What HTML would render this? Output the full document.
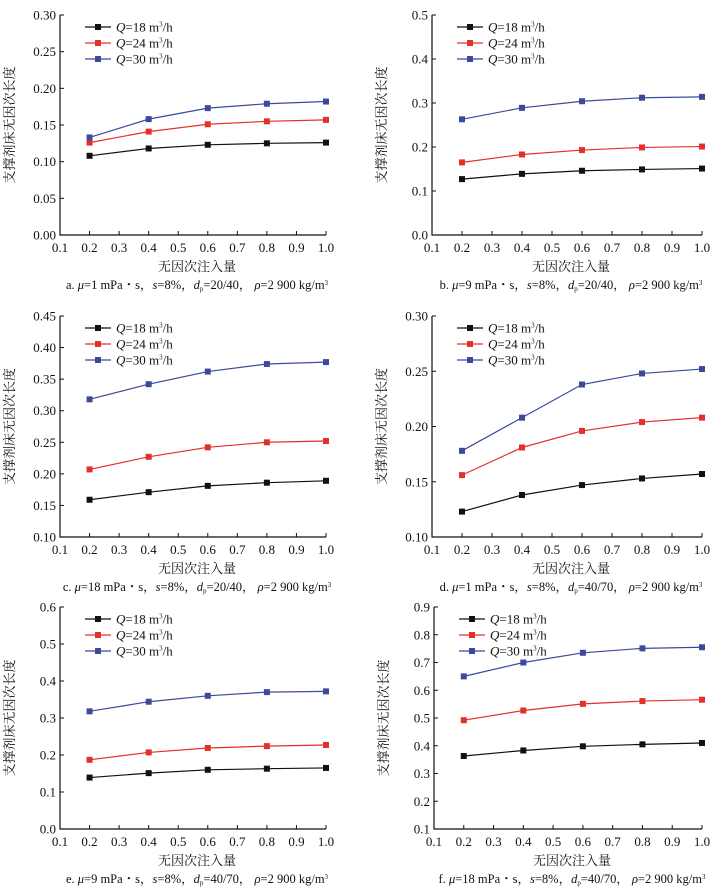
<!DOCTYPE html>
<html><head><meta charset="utf-8"><style>
body{margin:0;background:#fff;width:720px;height:896px;overflow:hidden}
svg{display:block}
text{font-family:"Liberation Serif","Noto Serif CJK SC",serif;fill:#111}
</style></head><body>
<svg id="c" width="720" height="896"></svg>
<script>
const xCats=[0.2,0.4,0.6,0.8,1.0];
const xTicks=[0.1,0.2,0.3,0.4,0.5,0.6,0.7,0.8,0.9,1.0];
const seriesNames=["18","24","30"];
const aQ18=[.108,.118,.123,.125,.126],aQ24=[.126,.141,.151,.155,.157],aQ30=[.133,.158,.173,.179,.182];
const bQ18=[.127,.139,.146,.149,.151],bQ24=[.165,.183,.193,.199,.201],bQ30=[.263,.289,.304,.312,.314];
const cQ18=[.159,.171,.181,.186,.189],cQ24=[.207,.227,.242,.250,.252],cQ30=[.318,.342,.362,.374,.377];
const dQ18=[.123,.138,.147,.153,.157],dQ24=[.156,.181,.196,.204,.208],dQ30=[.178,.208,.238,.248,.252];
const eQ18=[.139,.151,.160,.163,.165],eQ24=[.187,.207,.219,.224,.227],eQ30=[.318,.344,.360,.370,.372];
const fQ18=[.363,.383,.398,.405,.410],fQ24=[.492,.527,.551,.561,.566],fQ30=[.650,.700,.735,.751,.755];
const aTicks=[0,.05,.10,.15,.20,.25,.30],bTicks=[0,.1,.2,.3,.4,.5],cTicks=[.10,.15,.20,.25,.30,.35,.40,.45];
const dTicks=[.10,.15,.20,.25,.30],eTicks=[0,.1,.2,.3,.4,.5,.6],fTicks=[.1,.2,.3,.4,.5,.6,.7,.8,.9];
const captions=[
 ["a.",'<tspan font-style="italic">μ</tspan>=1 mPa・s，<tspan font-style="italic">s</tspan>=8%，<tspan font-style="italic">d</tspan><tspan font-size="7" dy="2">p</tspan><tspan dy="-2">=20/40，</tspan> <tspan font-style="italic">ρ</tspan>=2 900 kg/m<tspan font-size="7" dy="-4">3</tspan>'],
 ["b.",'<tspan font-style="italic">μ</tspan>=9 mPa・s，<tspan font-style="italic">s</tspan>=8%，<tspan font-style="italic">d</tspan><tspan font-size="7" dy="2">p</tspan><tspan dy="-2">=20/40，</tspan> <tspan font-style="italic">ρ</tspan>=2 900 kg/m<tspan font-size="7" dy="-4">3</tspan>'],
 ["c.",'<tspan font-style="italic">μ</tspan>=18 mPa・s，<tspan font-style="italic">s</tspan>=8%，<tspan font-style="italic">d</tspan><tspan font-size="7" dy="2">p</tspan><tspan dy="-2">=20/40，</tspan> <tspan font-style="italic">ρ</tspan>=2 900 kg/m<tspan font-size="7" dy="-4">3</tspan>'],
 ["d.",'<tspan font-style="italic">μ</tspan>=1 mPa・s，<tspan font-style="italic">s</tspan>=8%，<tspan font-style="italic">d</tspan><tspan font-size="7" dy="2">p</tspan><tspan dy="-2">=40/70，</tspan> <tspan font-style="italic">ρ</tspan>=2 900 kg/m<tspan font-size="7" dy="-4">3</tspan>'],
 ["e.",'<tspan font-style="italic">μ</tspan>=9 mPa・s，<tspan font-style="italic">s</tspan>=8%，<tspan font-style="italic">d</tspan><tspan font-size="7" dy="2">p</tspan><tspan dy="-2">=40/70，</tspan> <tspan font-style="italic">ρ</tspan>=2 900 kg/m<tspan font-size="7" dy="-4">3</tspan>'],
 ["f.",'<tspan font-style="italic">μ</tspan>=18 mPa・s，<tspan font-style="italic">s</tspan>=8%，<tspan font-style="italic">d</tspan><tspan font-size="7" dy="2">p</tspan><tspan dy="-2">=40/70，</tspan> <tspan font-style="italic">ρ</tspan>=2 900 kg/m<tspan font-size="7" dy="-4">3</tspan>']
];
const panels=[
 {id:"a",L:60,R:326,T:15,B:235,ticks:aTicks,dec:2,s:[aQ18,aQ24,aQ30]},
 {id:"b",L:432,R:702,T:15,B:235,ticks:bTicks,dec:1,s:[bQ18,bQ24,bQ30]},
 {id:"c",L:60,R:326,T:316,B:537,ticks:cTicks,dec:2,s:[cQ18,cQ24,cQ30]},
 {id:"d",L:432,R:702,T:316,B:537,ticks:dTicks,dec:2,s:[dQ18,dQ24,dQ30]},
 {id:"e",L:60,R:326,T:607,B:829,ticks:eTicks,dec:1,s:[eQ18,eQ24,eQ30]},
 {id:"f",L:434,R:702,T:607,B:829,ticks:fTicks,dec:1,s:[fQ18,fQ24,fQ30]}
];
const colors=["#111111","#e3302b","#3b4a9b"];
const NS="http://www.w3.org/2000/svg";
const svg=document.getElementById("c");
function mk(tag,attrs,parent){const e=document.createElementNS(NS,tag);for(const k in attrs)e.setAttribute(k,attrs[k]);(parent||svg).appendChild(e);return e;}
panels.forEach((p,pi)=>{
 const g=mk("g",{});
 
 
 const y0=p.ticks[0],y1=p.ticks[p.ticks.length-1];
 const sx=v=>p.L+(v-0.1)/(0.9)*(p.R-p.L);
 const sy=v=>p.B-(v-y0)/(y1-y0)*(p.B-p.T);
 const ax=mk("path",{d:`M${p.L},${p.T}V${p.B}H${p.R}`,stroke:"#111",fill:"none","stroke-width":1.2},g);
 
 
 p.ticks.forEach(t=>{
  const y=sy(t);
  mk("line",{x1:p.L,x2:p.L+4,y1:y,y2:y,stroke:"#111"},g);
  const tx=mk("text",{x:p.L-4,y:y+4.5,"text-anchor":"end","font-size":13},g);
  tx.textContent=t.toFixed(p.dec);
  
  
 });
 xTicks.forEach(t=>{
  const x=sx(t);
  mk("line",{x1:x,x2:x,y1:p.B,y2:p.B-4,stroke:"#111"},g);
  const tx=mk("text",{x:x,y:p.B+17,"text-anchor":"middle","font-size":13},g);
  tx.textContent=t.toFixed(1);
  
  
 });
 const yt=mk("text",{transform:`translate(${p.L-46},${(p.T+p.B)/2}) rotate(-90)`,"text-anchor":"middle","font-size":13},g);
 yt.textContent="支撑剂床无因次长度";
 
 
 const xt=mk("text",{x:(p.L+p.R)/2+4,y:p.B+36,"text-anchor":"middle","font-size":13},g);
 xt.textContent="无因次注入量";
 
 
 const cap=mk("text",{x:(p.L+p.R)/2+4,y:p.B+54,"text-anchor":"middle","font-size":12.5},g);
 cap.innerHTML=captions[pi][0]+" "+captions[pi][1];
 
 
 p.s.forEach((vals,si)=>{
  const pts=vals.map((v,i)=>sx(xCats[i])+","+sy(v)).join(" ");
  const pl=mk("polyline",{points:pts,fill:"none",stroke:colors[si],"stroke-width":1.2},g);
  
  
  vals.forEach((v,i)=>{
   const r=mk("rect",{x:sx(xCats[i])-3,y:sy(v)-3,width:6,height:6,fill:colors[si]},g);
   
   
  });
  const ly=p.T+12+si*16, lx=p.L+25;
  const lg=mk("g",{},g);
  
  
  mk("line",{x1:lx,x2:lx+26,y1:ly,y2:ly,stroke:colors[si],"stroke-width":1.2},lg);
  mk("rect",{x:lx+10,y:ly-3,width:6,height:6,fill:colors[si]},lg);
  const lt=mk("text",{x:lx+31,y:ly+4.5,"font-size":13},lg);
  lt.innerHTML='<tspan font-style="italic">Q</tspan>='+seriesNames[si]+' m<tspan font-size="7" dy="-5">3</tspan><tspan dy="5">/h</tspan>';
 });
});
</script>
</body></html>
